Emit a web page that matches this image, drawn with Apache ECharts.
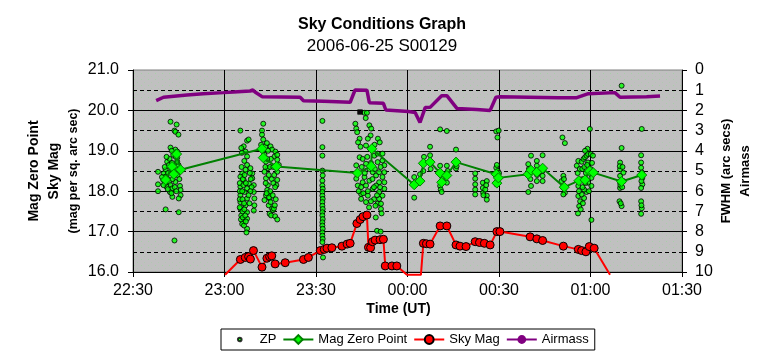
<!DOCTYPE html>
<html>
<head>
<meta charset="utf-8">
<script src="https://cdn.jsdelivr.net/npm/echarts@6/dist/echarts.min.js"></script>
<style>html,body{margin:0;padding:0;background:#fff}#c{width:764px;height:358px}</style>
</head>
<body>
<div id="c"></div>
<script>
// x values: minutes after 22:30 UT
const xTickLabels = ['22:30','23:00','23:30','00:00','00:30','01:00','01:30'];

// ZP individual measurements [minutes, mag]
const zpPoints = [
[12.3,19.72],[14.3,19.65],[13.6,19.50],[13.9,19.47],[14.9,19.40],[12.3,19.08],[13.9,19.03],[14.5,18.98],[13.2,18.90],[14.5,18.83],[11.2,18.73],[11.8,18.65],[12.5,18.57],[10.7,18.53],[13.2,18.53],[14.9,18.65],[14.5,18.73],[8.2,18.48],[10.1,18.44],[10.7,18.36],[11.2,18.32],[11.8,18.23],[12.3,18.15],[11.0,18.11],[12.9,18.07],[13.4,18.40],[13.9,18.23],[15.4,18.13],[15.6,18.03],[15.6,17.90],[15.0,17.82],[12.9,17.86],[8.2,18.17],[8.2,18.00],[10.7,17.55],[15.0,17.48],[13.6,16.78],[9.9,18.28],[12.1,17.98],[10.4,18.60],[11.5,18.45],[12.0,18.80],[12.8,18.70],[13.0,18.30],[14.0,18.55],[14.6,18.40],[15.2,18.30],[10.5,18.20],[11.4,18.05],[12.6,17.95],[13.7,18.10],[14.2,18.00],[11.0,18.85],[12.7,19.00],[14.0,18.85],[9.5,18.35],[10.0,18.15],
[35.2,19.50],[37.4,19.25],[37.9,19.28],[36.3,19.11],[35.5,19.07],[36.9,18.98],[37.4,18.86],[37.4,18.65],[36.9,18.53],[35.8,18.44],[35.2,18.36],[36.3,18.28],[38.5,18.57],[39.1,18.44],[39.1,18.32],[39.6,18.15],[39.6,17.98],[39.8,17.82],[39.8,17.65],[39.6,17.52],[35.2,18.11],[35.2,17.90],[35.2,17.73],[35.2,17.57],[35.5,17.40],[36.1,17.23],[37.4,17.32],[37.4,17.48],[36.9,17.65],[37.4,17.82],[36.6,17.98],[37.4,18.07],[38.0,18.19],[35.8,17.19],[37.4,17.07],[37.2,16.98],[35.0,18.20],[35.0,18.00],[35.0,17.80],[35.0,17.60],[35.4,17.30],[35.8,18.00],[35.9,17.80],[35.9,17.50],[36.0,17.35],[36.2,18.15],[36.4,17.70],[36.5,17.55],[36.0,18.30],[36.6,18.40],[37.0,18.20],[36.8,17.40],[38.3,18.45],[38.6,18.30],[38.9,18.10],[38.5,18.00],[37.9,17.90],[38.2,17.70],[36.4,17.15],[37.0,17.25],[35.6,18.60],[36.5,18.75],[35.7,18.95],
[42.7,19.67],[42.3,19.50],[42.3,19.40],[42.7,19.28],[42.0,19.15],[43.4,19.11],[43.9,19.19],[45.1,19.11],[45.6,19.03],[46.7,18.98],[46.4,18.86],[47.3,18.90],[47.3,18.78],[47.8,18.65],[47.3,18.48],[47.3,18.28],[47.0,18.15],[43.1,18.90],[43.6,18.73],[44.2,18.57],[43.1,18.48],[43.6,18.32],[44.2,18.15],[44.0,18.03],[44.8,17.94],[43.6,17.90],[44.8,17.82],[43.1,17.78],[44.5,17.65],[45.6,17.57],[45.9,17.53],[44.8,17.44],[45.3,17.40],[46.6,17.38],[47.3,17.30],[46.2,17.57],[45.1,17.73],[44.5,18.40],[44.9,18.60],[45.2,18.80],[44.0,18.80],[43.4,18.60],[45.5,18.30],[45.0,18.00],[44.6,17.85],[46.0,18.60],[46.3,18.40],[46.0,18.20],[45.8,17.90],[46.6,18.10],[46.8,17.80],[43.8,17.95],[43.5,18.20],[44.3,19.00],[42.6,19.00],[46.5,17.65],
[62.1,19.74],[62.1,19.09],[62.1,18.88],[62.1,18.51],[62.2,18.39],[62.1,18.26],[62.1,18.14],[62.2,18.06],[62.1,17.98],[62.1,17.89],[62.2,17.81],[62.1,17.73],[62.1,17.64],[62.2,17.56],[62.1,17.48],[62.1,17.40],[62.2,17.31],[62.1,17.23],[62.1,17.15],[62.2,17.07],[62.1,16.98],[62.1,16.90],[62.2,16.82],[62.1,16.74],[62.3,16.36],
[72.9,19.67],[73.2,19.55],[73.5,19.46],[77.5,19.63],[78.1,19.55],[77.9,19.38],[77.0,19.30],[74.3,19.30],[73.8,19.21],[80.3,19.30],[80.9,19.21],[76.4,19.13],[78.6,19.05],[79.1,18.88],[80.2,18.93],[81.8,18.93],[81.8,18.76],[82.4,18.64],[82.4,18.47],[81.8,18.35],[82.4,18.22],[82.4,18.06],[81.8,17.89],[80.7,17.81],[80.2,17.69],[79.5,17.64],[81.3,17.56],[81.3,17.69],[77.0,17.89],[76.4,17.73],[74.8,17.81],[74.8,17.93],[73.7,18.14],[73.2,18.31],[73.7,18.47],[73.2,18.64],[74.3,18.84],[75.3,18.80],[76.4,18.68],[77.5,18.55],[78.6,18.47],[79.7,18.39],[80.7,18.22],[79.7,18.14],[78.6,18.06],[77.5,18.26],[75.9,18.35],[75.3,18.22],[74.8,18.10],[76.4,18.14],[80.7,17.98],[80.7,18.47],[80.2,18.72],[75.9,19.94],[76.7,19.94],[76.3,19.81],[74.0,18.00],[75.0,18.60],[76.0,18.45],[77.0,18.00],[78.0,18.70],[78.5,18.30],[79.0,18.10],[79.3,18.55],[80.0,17.90],[81.0,18.10],[81.2,18.60],[79.0,17.80],[78.0,17.75],[75.5,17.95],[76.8,18.85],[77.8,19.05],[74.6,19.10],[79.2,19.15],[77.4,17.60],[81.5,17.45],[79.6,17.35],[80.0,17.02],[81.2,17.00],
[100.7,19.53],[102.9,19.49],[97.4,19.10],[97.4,18.89],[92.2,18.35],[92.2,17.84],[94.1,18.42],[100.7,18.63],[100.7,18.46],[100.7,18.13],[100.9,18.04],[101.2,17.98],[102.9,18.63],[102.9,18.21],[105.9,19.03],[105.9,18.56],[95.2,18.50],[95.4,18.85],[97.6,18.55],[101.5,18.30],[103.2,18.50],[106.1,18.62],
[112.2,18.44],[112.2,18.31],[112.2,18.17],[112.2,18.04],[112.2,17.92],[114.7,18.21],[114.7,18.08],[114.8,17.96],[115.5,18.04],[116.0,17.89],[116.0,17.79],[116.0,18.25],[115.8,18.15],[114.9,17.90],
[119.1,19.48],[119.9,19.50],[119.5,19.33],[119.1,18.58],[119.2,18.17],[119.6,18.50],[119.3,18.65],[120.0,18.45],
[129.6,17.98],[130.5,18.88],[134.3,18.89],[132.4,18.75],[132.4,18.63],[129.6,18.67],[132.4,18.25],[134.3,18.38],[134.3,18.25],[130.5,18.13],[130.3,18.30],[132.5,18.40],[134.3,18.50],[129.8,18.55],
[140.8,19.33],[141.6,19.19],[141.1,18.38],[140.5,18.25],[141.6,17.96],[141.1,17.92],[145.5,18.63],[146.0,18.75],[146.6,18.29],[146.0,18.13],[146.0,17.88],[146.6,17.75],[146.3,17.63],[147.1,18.73],[147.7,18.80],[148.2,18.84],[148.7,18.88],[149.2,18.92],[150.1,18.92],[150.8,18.88],[149.2,18.71],[149.2,18.46],[149.2,18.21],[148.7,17.98],[150.3,18.13],[150.3,18.33],[147.9,18.04],[147.9,17.83],[147.1,17.92],[150.3,17.29],[149.8,19.54],[145.8,18.45],[146.2,18.00],[146.5,18.55],[147.3,18.55],[147.5,18.30],[147.4,18.10],[148.0,18.60],[148.3,18.20],[148.5,18.45],[148.9,18.65],[149.5,18.00],[150.0,18.55],[150.5,18.70],[146.8,17.55],[145.9,17.45],[149.0,19.05],[148.2,19.00],[147.5,17.70],[140.9,18.10],[141.3,18.30],
[160.2,20.61],[160.2,19.07],[159.7,18.71],[159.7,18.54],[159.7,18.38],[159.7,18.21],[159.7,18.08],[160.8,18.25],[160.8,18.46],[159.5,17.75],[160.2,17.63],[159.6,18.62],[159.8,18.15],[160.5,18.60],[159.9,17.70],[160.4,18.10],
[166.8,19.54],[166.6,18.89],[166.6,18.71],[166.6,18.58],[166.9,18.46],[167.0,18.33],[167.0,18.17],[166.6,18.08],[166.6,17.75],[166.8,17.58],[166.6,17.44],[166.7,18.25],[166.8,18.40],[166.7,17.65]
];

// Mag Zero Point (averaged) [minutes, mag]
const magZeroPoint = [
[10.7,18.28],[12.8,18.61],[13.4,18.42],[14.3,18.92],[15.6,18.53],[42.3,19.05],[42.7,18.83],[47.0,18.61],[73.6,18.45],[78.1,18.62],[78.3,19.05],[92.2,18.16],[94.1,18.25],[95.2,18.69],[97.4,18.72],[100.7,18.45],[101.2,18.22],[102.9,18.39],[105.9,18.72],[119.1,18.42],[119.3,18.20],[119.8,18.33],[129.6,18.42],[130.5,18.52],[132.4,18.47],[134.3,18.57],[141.4,18.10],[146.2,18.26],[148.2,18.28],[149.7,18.50],[150.9,18.46],[160.2,18.24],[166.8,18.40]
];

// Sky Mag [minutes, mag per sq. arcsec]
const skyMag = [
[30.2,15.93],[35.2,16.31],[36.8,16.36],[37.9,16.38],[38.5,16.32],[39.5,16.53],[42.3,16.12],[43.9,16.34],[44.8,16.38],[45.5,16.40],[46.6,16.20],[49.9,16.23],[55.9,16.31],[57.5,16.36],[61.4,16.53],[62.7,16.56],[63.6,16.59],[65.2,16.60],[68.5,16.64],[70.2,16.69],[71.2,16.71],[73.4,17.20],[74.5,17.30],[75.4,17.37],[76.7,17.41],[77.2,16.61],[77.9,16.60],[78.5,16.75],[79.4,16.79],[81.0,16.80],[82.1,16.81],[82.7,16.15],[84.9,16.15],[86.5,16.15],[89.8,15.93],[94.4,15.93],[95.2,16.71],[96.2,16.70],[97.4,16.69],[100.7,17.14],[102.9,17.14],[105.9,16.67],[107.2,16.64],[109.2,16.63],[112.2,16.75],[113.6,16.73],[115.2,16.71],[117.1,16.67],[119.3,17.00],[120.3,17.00],[130.2,16.87],[132.4,16.82],[134.3,16.78],[141.1,16.64],[146.0,16.56],[147.1,16.53],[148.5,16.50],[149.6,16.63],[151.2,16.59],[156.4,15.93]
];

// Airmass [minutes, airmass]
const airmass = [
[7.6,1.52],[10.0,1.35],[10.6,1.27],[17.7,1.24],[23.0,1.17],[29.7,1.12],[33.0,1.09],[38.4,1.04],[39.3,0.99],[40.0,1.09],[42.3,1.32],[54.8,1.35],[55.9,1.52],[62.5,1.55],[71.2,1.60],[72.8,0.99],[76.7,1.00],[77.5,1.62],[82.1,1.65],[82.9,1.98],[90.3,2.06],[92.5,2.10],[94.1,2.60],[95.8,1.86],[97.4,1.85],[101.2,1.27],[102.9,1.27],[106.2,1.90],[112.7,1.95],[117.1,2.00],[117.6,1.98],[119.0,1.35],[120.3,1.32],[139.5,1.37],[145.5,1.37],[146.0,1.30],[149.3,1.17],[149.8,1.10],[158.0,1.12],[159.7,1.35],[168.4,1.32],[172.8,1.29]
];

// FWHM (arc secs)
const fwhm = [[74.3,2.08],[74.6,2.08]];

const FONT = '"Liberation Sans", Arial, sans-serif';

// speckled grey plot background
const pc = document.createElement('canvas');
pc.width = 7; pc.height = 6;
const px = pc.getContext('2d');
px.fillStyle = '#c0c0c0'; px.fillRect(0,0,7,6);
px.fillStyle = '#a6cfa6'; px.fillRect(1,1,1,1);
px.fillStyle = '#b0c8b0'; px.fillRect(4,4,1,1);

const chart = echarts.init(document.getElementById('c'), null, {renderer:'canvas'});

const skyData = skyMag.map(p => p[1] < 16 ? {value:p, symbol:'none'} : p);

chart.setOption({
  animation: false,
  backgroundColor: '#ffffff',
  textStyle: {fontFamily: FONT},
  title: [
    {text: 'Sky Conditions Graph', left: 'center', top: 12,
     textStyle: {fontFamily: FONT, fontSize: 16, fontWeight: 'bold', color: '#000'}},
    {text: '2006-06-25 S00129', left: 'center', top: 33,
     textStyle: {fontFamily: FONT, fontSize: 17, fontWeight: 'normal', color: '#000'}}
  ],
  grid: {left: 133, top: 70, width: 549, height: 202, show: true,
         backgroundColor: {image: pc, repeat: 'repeat'}, borderColor: '#808080', borderWidth: 1},
  legend: {
    left: 221, top: 329, orient: 'horizontal',
    padding: [4, 6, 4, 4], itemGap: 6, itemWidth: 30, itemHeight: 11,
    borderColor: '#000', borderWidth: 1, backgroundColor: '#fff',
    textStyle: {fontFamily: FONT, fontSize: 13, color: '#000'},
    data: [
      {name: 'ZP', icon: 'path://M0,0M30,12M13,6a2,2 0 1,0 4,0a2,2 0 1,0 -4,0z'},
      'Mag Zero Point', 'Sky Mag', 'Airmass'
    ]
  },
  xAxis: {
    type: 'value', min: 0, max: 180, interval: 30,
    name: 'Time (UT)', nameLocation: 'middle', nameGap: 30, nameMoveOverlap: false,
    nameTextStyle: {fontFamily: FONT, fontSize: 14, fontWeight: 'bold', color: '#000', padding: [0, 18, 0, 0]},
    axisLine: {show: true, onZero: false, lineStyle: {color: '#000', width: 1}},
    axisTick: {show: true, length: 5, lineStyle: {color: '#000'}},
    axisLabel: {fontFamily: FONT, fontSize: 16, color: '#000', margin: 11,
                showMinLabel: true, showMaxLabel: true,
                formatter: v => xTickLabels[Math.round(v / 30)]},
    splitLine: {show: true, showMinLine: false, showMaxLine: false, lineStyle: {color: '#000', width: 1}}
  },
  yAxis: [
    {
      type: 'value', min: 16, max: 21, interval: 1, position: 'left',
      name: '{a|Mag Zero Point}\n{a|Sky Mag}\n{b|(mag per sq. arc sec)}',
      nameLocation: 'middle', nameRotate: 90, nameGap: 50, nameMoveOverlap: false,
      nameTextStyle: {
        color: '#000',
        rich: {
          a: {fontFamily: FONT, fontSize: 14, fontWeight: 'bold', lineHeight: 20, color: '#000'},
          b: {fontFamily: FONT, fontSize: 12.5, fontWeight: 'bold', lineHeight: 19, color: '#000'}
        }
      },
      axisLine: {show: true, lineStyle: {color: '#000', width: 1}},
      axisTick: {show: true, length: 5, lineStyle: {color: '#000'}},
      axisLabel: {fontFamily: FONT, fontSize: 16, color: '#000', margin: 14,
                  formatter: v => v.toFixed(1)},
      splitLine: {show: true, showMinLine: false, showMaxLine: false, lineStyle: {color: '#000', width: 1}}
    },
    {
      type: 'value', min: 0, max: 10, interval: 1, inverse: true, position: 'right',
      name: '{a|FWHM (arc secs)}\n{a|Airmass}',
      nameLocation: 'middle', nameRotate: 90, nameGap: 35, nameMoveOverlap: false,
      nameTextStyle: {
        color: '#000',
        rich: {a: {fontFamily: FONT, fontSize: 13, fontWeight: 'bold', lineHeight: 19, color: '#000'}}
      },
      axisLine: {show: true, lineStyle: {color: '#000', width: 1}},
      axisTick: {show: true, length: 5, lineStyle: {color: '#000'}},
      axisLabel: {fontFamily: FONT, fontSize: 16, color: '#000', margin: 13},
      splitLine: {show: true, showMinLine: false, showMaxLine: false,
                  lineStyle: {color: '#000', width: 1, type: [4, 3]}}
    }
  ],
  series: [
    {
      name: 'ZP', type: 'scatter', data: zpPoints, symbol: 'circle', symbolSize: 5,
      itemStyle: {color: '#00ff00', borderColor: '#000', borderWidth: 1}, z: 2
    },
    {
      name: 'FWHM', type: 'scatter', yAxisIndex: 1, data: fwhm, symbol: 'rect', symbolSize: 5,
      itemStyle: {color: '#000'}, z: 2
    },
    {
      name: 'Mag Zero Point', type: 'line', data: magZeroPoint, symbol: 'diamond', symbolSize: 10,
      showAllSymbol: true,
      lineStyle: {color: '#008000', width: 2},
      itemStyle: {color: '#00ff00', borderColor: '#008000', borderWidth: 1}, z: 3
    },
    {
      name: 'Sky Mag', type: 'line', data: skyData, symbol: 'circle', symbolSize: 8,
      showAllSymbol: true, clip: false,
      lineStyle: {color: '#ff0000', width: 2},
      itemStyle: {color: '#ff0000', borderColor: '#000', borderWidth: 1}, z: 4
    },
    {
      name: 'Airmass', type: 'line', yAxisIndex: 1, data: airmass, symbol: 'none',
      lineStyle: {color: '#800080', width: 3.5},
      itemStyle: {color: '#800080'}, z: 5
    }
  ]
});
</script>
</body>
</html>
